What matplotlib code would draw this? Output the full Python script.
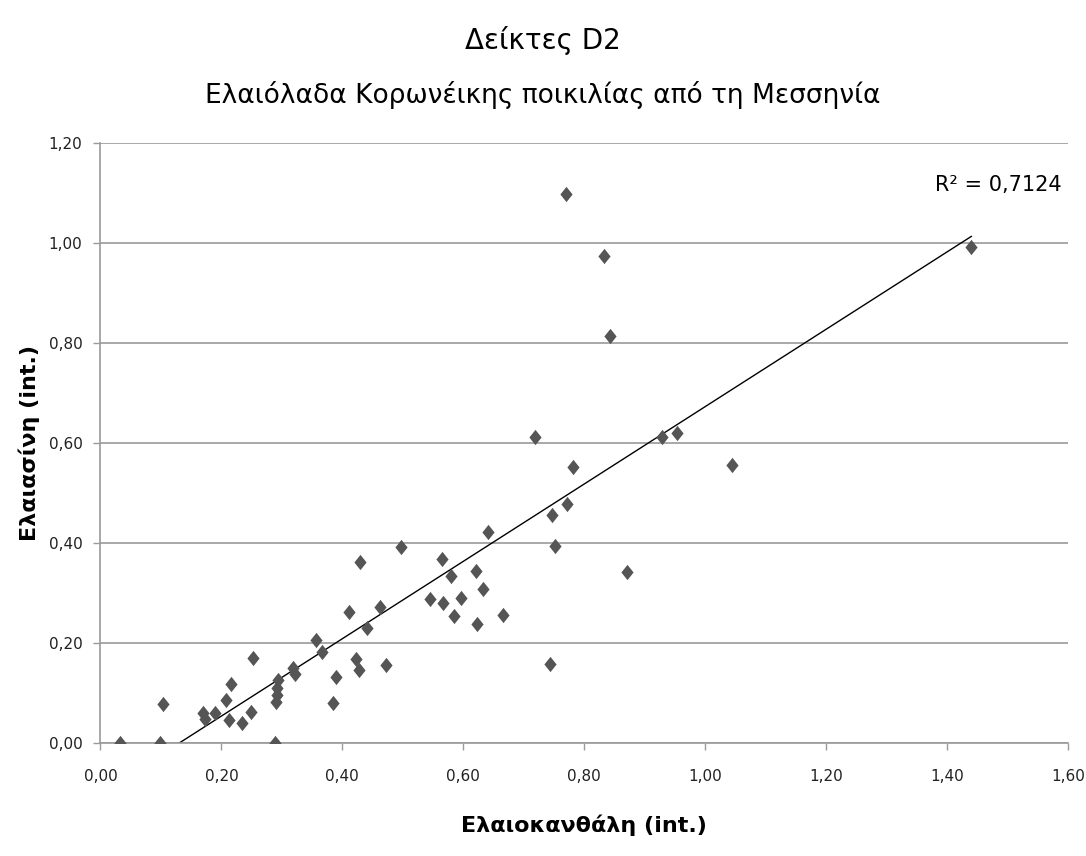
import numpy as np
import matplotlib
matplotlib.use("Agg")
import matplotlib.pyplot as plt
from matplotlib.path import Path
from matplotlib.ticker import FuncFormatter

plt.rcParams['font.family'] = ['DejaVu Sans']

X_LABEL = "Ελαιοκανθάλη (int.)"
Y_LABEL = "Ελαιασίνη (int.)"
R2_TEXT = "R² = 0,7124"

# Ελαιοκανθάλη / Ελαιασίνη ανά δείγμα
oleocanthal = [
    0.032, 0.099, 0.104, 0.289, 0.170, 0.173, 0.189, 0.213, 0.208, 0.216,
    0.234, 0.249, 0.252, 0.291, 0.292, 0.294, 0.292, 0.318, 0.322, 0.357,
    0.367, 0.389, 0.384, 0.411, 0.422, 0.427, 0.429, 0.440, 0.462, 0.472,
    0.497, 0.719, 0.782, 0.772, 0.746, 0.752, 0.928, 0.953, 0.640, 0.870,
    0.565, 0.579, 0.621, 0.633, 0.545, 0.567, 0.596, 0.585, 0.622, 0.666,
    0.743, 1.440, 1.044, 0.769, 0.832, 0.843,
]
oleacein = [
    0.000, 0.000, 0.078, 0.000, 0.061, 0.049, 0.061, 0.046, 0.086, 0.119,
    0.040, 0.063, 0.171, 0.083, 0.097, 0.126, 0.110, 0.151, 0.138, 0.205,
    0.182, 0.133, 0.080, 0.262, 0.168, 0.147, 0.361, 0.229, 0.271, 0.157,
    0.391, 0.611, 0.551, 0.478, 0.455, 0.393, 0.611, 0.620, 0.421, 0.341,
    0.368, 0.334, 0.343, 0.308, 0.287, 0.280, 0.290, 0.254, 0.238, 0.256,
    0.158, 0.992, 0.556, 1.097, 0.974, 0.814,
]

x = np.array(oleocanthal)
y = np.array(oleacein)

# γραμμή τάσης (ελάχιστα τετράγωνα)
slope, intercept = np.polyfit(x, y, 1)
x_start = max(x.min(), -intercept / slope)
xs = np.array([x_start, x.max()])

fig = plt.figure(figsize=(10.86, 8.56), dpi=100)
ax = fig.add_axes([0.0925, 0.132, 0.891, 0.701])

diamond = Path([(0, 1), (0.8, 0), (0, -1), (-0.8, 0), (0, 1)],
               [Path.MOVETO, Path.LINETO, Path.LINETO, Path.LINETO, Path.CLOSEPOLY])

ax.plot(xs, slope * xs + intercept, color="black", lw=1.0, zorder=2)
ax.plot(x, y, linestyle="none", marker=diamond, markersize=11,
        color="#555555", markeredgewidth=0, zorder=3)

ax.set_xlim(0, 1.6)
ax.set_ylim(0, 1.2)
ax.set_xticks(np.arange(0, 1.61, 0.2))
ax.set_yticks(np.arange(0, 1.21, 0.2))
fmt = FuncFormatter(lambda v, p: f"{v:.2f}".replace(".", ","))
ax.xaxis.set_major_formatter(fmt)
ax.yaxis.set_major_formatter(fmt)

ax.grid(axis="y", color="#9a9a9a", lw=1.2)
ax.set_axisbelow(True)
for side in ("top", "right"):
    ax.spines[side].set_visible(False)
for side in ("left", "bottom"):
    ax.spines[side].set_color("#9a9a9a")
    ax.spines[side].set_linewidth(1.2)
ax.tick_params(axis="both", colors="#9a9a9a", labelcolor="#222222",
               labelsize=11, length=5, width=1.0)
ax.tick_params(axis="x", pad=14)
ax.tick_params(axis="y", pad=8)

ax.set_xlabel(X_LABEL, fontsize=16, fontweight="bold", labelpad=22)
ax.set_ylabel(Y_LABEL, fontsize=16, fontweight="bold", labelpad=6)

fig.text(0.5, 0.953, "Δείκτες D2", ha="center", va="center", fontsize=20)
fig.text(0.5, 0.889, "Ελαιόλαδα Κορωνέικης ποικιλίας από τη Μεσσηνία",
         ha="center", va="center", fontsize=19)

ax.text(0.993, 0.93, R2_TEXT, transform=ax.transAxes, ha="right",
        va="center", fontsize=15)

fig.savefig("out.png", dpi=100)
